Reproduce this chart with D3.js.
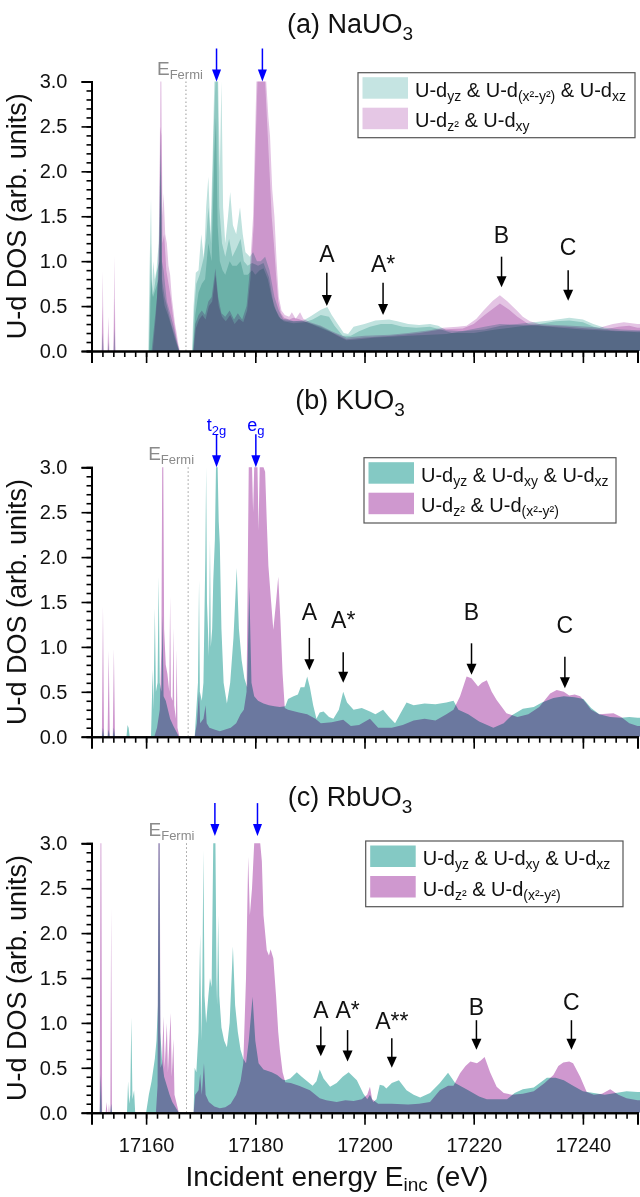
<!DOCTYPE html>
<html>
<head>
<meta charset="utf-8">
<script src="https://cdn.jsdelivr.net/npm/d3@7"></script>
<style>
  body { margin: 0; background: #fff; }
  svg { display: block; }
  text { font-family: "Liberation Sans", Arial, sans-serif; white-space: pre; }
</style>
</head>
<body>
<svg id="chart" width="640" height="1197"></svg>
<script>
// tick labels
const energyTicks = [17160, 17180, 17200, 17220, 17240]
const dosTicks = [0, 0.5, 1.0, 1.5, 2.0, 2.5, 3.0]

// ---------- (a) NaUO3 : one layer per orbital [energy eV, DOS] ----------
const naDyz = [[17151.9,0],[17152.05,0.2],[17152.2,0],[17153.0,0],[17153.1,0.1],[17153.2,0],[17154.05,0],[17154.2,0.25],[17154.35,0],
  [17160.4,0],[17160.6,0.8],[17160.9,1.7],[17161.1,0.7],[17161.3,1.0],[17161.6,0.8],[17161.9,0.9],[17162.3,1.2],[17162.7,2.42],[17162.9,1.0],[17163.2,0.9],[17163.8,0.55],[17164.4,0.42],[17165.0,0.28],[17165.6,0.12],[17166.1,0],
  [17168.4,0],[17168.7,0.5],[17169.1,0.87],[17169.6,0.9],[17170.1,1.3],[17170.6,1.0],[17171.0,1.6],[17171.4,1.94],[17171.8,1.3],[17172.2,2.2],[17172.5,3.0],[17173.2,3.0],[17173.5,2.0],[17173.8,3.0],[17174.1,1.6],[17174.5,1.2],[17175.0,1.5],[17175.4,1.77],[17175.9,1.4],[17176.5,1.3],[17177.2,1.6],[17177.7,1.3],[17178.2,1.1],[17179.0,1.05],[17179.6,1.1],[17180.3,1.0],[17181.0,1.0],[17181.8,1.05],[17182.6,0.9],[17183.5,0.6],[17184.3,0.45],[17185.1,0.36],
  [17186,0.35],[17187,0.33],[17188.8,0.34],[17190,0.38],[17191,0.42],[17192,0.46],[17193.2,0.49],[17194,0.4],[17195,0.31],[17196.2,0.2],[17197,0.19],[17198,0.27],[17200,0.3],[17202,0.34],[17204.5,0.35],[17206,0.33],[17208,0.3],[17210,0.29],[17212,0.3],[17213.5,0.28],[17215,0.23],[17218,0.22],[17222,0.24],[17225,0.28],[17228,0.3],[17231,0.32],[17234,0.34],[17237.5,0.37],[17240,0.35],[17241.9,0.3],[17244,0.26],[17247,0.24],[17250,0.23],[17251,0.23]]
const naDx2y2 = [[17160.5,0],[17160.7,0.6],[17160.9,1.2],[17161.1,0.6],[17161.5,0.7],[17162.0,0.9],[17162.5,1.0],[17162.7,2.2],[17162.9,0.8],[17163.4,0.6],[17164,0.45],[17164.6,0.3],[17165.2,0.18],[17165.8,0.05],[17166.1,0],
  [17168.5,0],[17168.8,0.45],[17169.2,0.75],[17169.8,0.85],[17170.4,1.0],[17171.0,1.25],[17171.4,1.6],[17171.9,1.2],[17172.4,2.5],[17172.7,3.0],[17173.1,3.0],[17173.4,1.6],[17173.9,1.2],[17174.5,1.05],[17175.2,1.25],[17175.8,1.05],[17176.6,1.15],[17177.3,1.25],[17177.9,1.0],[17178.6,0.95],[17179.4,0.98],[17180.5,0.95],[17181.5,0.98],[17182.5,0.82],[17183.4,0.5],[17184.3,0.38],[17185.2,0.33],
  [17187,0.31],[17189,0.32],[17190.5,0.35],[17192,0.4],[17193.5,0.38],[17194.5,0.28],[17196,0.17],[17197.5,0.17],[17199,0.22],[17201,0.27],[17203,0.3],[17205,0.3],[17207,0.27],[17209.5,0.26],[17212,0.27],[17214,0.24],[17216,0.2],[17220,0.2],[17224,0.24],[17228,0.27],[17232,0.3],[17235,0.33],[17237.5,0.34],[17240,0.32],[17242,0.27],[17245,0.23],[17250,0.21],[17251,0.21]]
const naDxz = [[17160.6,0],[17160.8,0.55],[17161.0,0.8],[17161.3,0.6],[17161.8,0.7],[17162.3,0.8],[17162.7,2.0],[17162.9,0.7],[17163.4,0.5],[17164,0.4],[17164.6,0.28],[17165.2,0.15],[17165.8,0.04],[17166,0],
  [17168.6,0],[17169.0,0.4],[17169.6,0.65],[17170.2,0.75],[17170.8,0.8],[17171.4,1.2],[17172.0,1.0],[17172.5,2.2],[17172.8,2.6],[17173.1,1.4],[17173.5,1.0],[17174.0,0.9],[17174.5,0.85],[17175.3,1.0],[17175.8,0.95],[17176.6,0.95],[17177.3,1.0],[17177.9,0.85],[17178.6,0.85],[17179.4,0.9],[17180.0,0.85],[17180.8,0.9],[17181.5,0.92],[17182.3,0.8],[17183.0,0.6],[17183.8,0.45],[17184.6,0.36],[17185.5,0.34],
  [17187,0.33],[17188.8,0.33],[17190.5,0.3],[17192,0.27],[17193.7,0.22],[17195,0.17],[17196.7,0.12],[17199,0.13],[17202,0.15],[17204.7,0.16],[17208,0.17],[17212,0.18],[17215,0.19],[17218.7,0.23],[17222,0.27],[17224.8,0.3],[17228,0.29],[17232,0.28],[17236,0.26],[17240,0.24],[17243,0.23],[17246,0.22],[17250,0.22],[17251,0.22]]
const naDz2 = [[17151.85,0],[17152.05,0.89],[17152.25,0],[17152.9,0],[17153.1,0.38],[17153.3,0],[17154.0,0],[17154.2,1.06],[17154.4,0],
  [17161.0,0],[17161.5,0.3],[17162.0,0.6],[17162.4,1.3],[17162.6,3.0],[17162.8,3.0],[17163.0,1.5],[17163.2,1.76],[17163.5,1.3],[17163.8,1.2],[17164.1,0.95],[17164.4,0.85],[17164.7,0.6],[17165.0,0.45],[17165.3,0.3],[17165.6,0.2],[17165.9,0.08],[17166.2,0],
  [17168.6,0],[17169.0,0.3],[17169.6,0.4],[17170.2,0.45],[17170.8,0.4],[17171.4,0.55],[17172.0,0.6],[17172.7,0.92],[17173.2,0.6],[17173.8,0.42],[17174.5,0.38],[17175.3,0.45],[17176.1,0.35],[17176.8,0.42],[17177.6,0.35],[17178.4,0.5],[17179.0,0.9],[17179.6,1.5],[17180.0,2.5],[17180.2,3.0],[17182.0,3.0],[17182.4,2.6],[17182.7,2.39],[17183.1,1.8],[17183.5,1.5],[17183.9,1.0],[17184.3,0.6],[17184.8,0.45],[17185.4,0.4],
  [17186.2,0.38],[17186.7,0.43],[17187.4,0.36],[17188.2,0.43],[17188.8,0.36],[17190,0.32],[17192,0.28],[17194,0.22],[17196.7,0.15],[17200,0.17],[17204.7,0.18],[17208,0.2],[17212,0.23],[17214.4,0.26],[17217,0.27],[17218.7,0.28],[17220.5,0.36],[17221.8,0.45],[17223.5,0.56],[17224.8,0.62],[17226.2,0.55],[17227.9,0.45],[17229,0.38],[17230.3,0.33],[17232,0.3],[17235,0.29],[17238,0.28],[17241,0.27],[17243,0.26],[17245.5,0.3],[17247.5,0.32],[17250,0.3],[17251,0.3]]
const naDxy = [[17151.9,0],[17152.05,0.5],[17152.2,0],[17153.0,0],[17153.1,0.2],[17153.2,0],[17154.05,0],[17154.2,0.6],[17154.35,0],
  [17161.2,0],[17161.8,0.4],[17162.3,0.9],[17162.6,2.5],[17162.8,2.4],[17163.0,1.2],[17163.3,1.3],[17163.7,0.9],[17164.1,0.75],[17164.5,0.6],[17164.9,0.4],[17165.3,0.25],[17165.7,0.1],[17166.1,0],
  [17168.7,0],[17169.1,0.25],[17169.7,0.35],[17170.3,0.4],[17170.9,0.35],[17171.5,0.5],[17172.1,0.55],[17172.7,0.85],[17173.3,0.5],[17173.9,0.38],[17174.6,0.33],[17175.4,0.4],[17176.2,0.3],[17177,0.36],[17177.8,0.32],[17178.5,0.45],[17179.1,0.8],[17179.7,1.4],[17180.1,2.4],[17180.4,3.0],[17181.8,3.0],[17182.2,2.5],[17182.6,2.0],[17183,1.5],[17183.4,1.2],[17183.8,0.85],[17184.2,0.55],[17184.7,0.42],[17185.3,0.37],
  [17186.2,0.35],[17187,0.37],[17188.2,0.35],[17189.5,0.32],[17191,0.28],[17193,0.23],[17195,0.18],[17196.7,0.13],[17200,0.15],[17205,0.17],[17210,0.2],[17214,0.24],[17218,0.25],[17220,0.3],[17222,0.4],[17224.8,0.53],[17226.5,0.46],[17228,0.38],[17230,0.3],[17233,0.28],[17237,0.27],[17241,0.25],[17244,0.24],[17246.5,0.27],[17248.5,0.28],[17250,0.26],[17251,0.26]]

// ---------- (b) KUO3 ----------
const kuT2g = [[17151.9,0],[17152.1,0.1],[17152.3,0],[17152.95,0],[17153.15,0.08],[17153.35,0],[17153.9,0],[17154.1,0.1],[17154.3,0],
  [17156.4,0],[17156.6,0.13],[17156.8,0.1],[17157.0,0],
  [17160.9,0],[17161.1,0.5],[17161.2,0.75],[17161.35,0.3],[17161.6,1.43],[17161.8,0.5],[17162.1,0.6],[17162.3,1.78],[17162.5,0.6],[17162.8,0.5],[17163.0,1.35],[17163.2,0.45],[17163.6,0.4],[17164.0,0.3],[17164.4,0.2],[17165.0,0.12],[17165.6,0.05],[17166.0,0],
  [17168.9,0],[17169.2,0.3],[17169.5,0.6],[17169.7,1.74],[17169.85,0.5],[17170.2,0.4],[17170.5,0.6],[17170.85,2.0],[17171.0,3.0],[17171.15,1.5],[17171.5,0.9],[17171.7,2.19],[17171.85,1.0],[17172.1,1.2],[17172.3,1.74],[17172.6,2.2],[17172.8,3.0],[17173.1,3.0],[17173.3,2.4],[17173.5,2.15],[17173.8,1.2],[17174.2,0.6],[17174.8,0.37],[17175.4,0.6],[17176.0,1.1],[17176.6,1.88],[17177.0,1.2],[17177.5,0.85],[17178.0,0.65],[17178.5,0.55],[17178.9,1.67],[17179.3,0.6],[17179.8,0.45],[17180.5,0.4],[17181.5,0.37],[17182.5,0.35],[17183.5,0.34],[17184.5,0.33],[17185.5,0.34],
  [17186.0,0.42],[17187.0,0.45],[17187.8,0.47],[17188.3,0.55],[17189.0,0.55],[17189.5,0.67],[17190.0,0.55],[17190.6,0.35],[17191.2,0.2],[17191.8,0.27],[17192.5,0.28],[17193.5,0.22],[17194.3,0.2],[17195.3,0.3],[17196.1,0.5],[17196.8,0.38],[17198.0,0.3],[17199.5,0.32],[17201.0,0.28],[17202.0,0.25],[17203.4,0.3],[17204.5,0.22],[17205.6,0.15],[17206.5,0.25],[17207.7,0.38],[17209.0,0.35],[17211.0,0.37],[17213.0,0.36],[17215.0,0.38],[17216.3,0.4],[17217.2,0.3],[17219,0.25],[17221,0.17],[17223.6,0.1],[17225.5,0.15],[17227,0.24],[17229,0.31],[17231,0.33],[17232.5,0.38],[17234.6,0.43],[17236.5,0.45],[17238.5,0.44],[17240.1,0.42],[17241.5,0.32],[17243,0.25],[17245,0.22],[17247,0.21],[17248.5,0.22],[17250,0.21],[17251,0.21]]
const kuEg = [[17151.9,0],[17152.1,1.45],[17152.3,0],[17152.95,0],[17153.15,0.96],[17153.35,0],[17153.9,0],[17154.1,0.98],[17154.3,0],
  [17161.5,0],[17162.0,0.1],[17162.5,0.3],[17162.8,1.0],[17162.95,3.0],[17163.15,3.0],[17163.3,1.2],[17163.6,0.8],[17163.9,0.7],[17164.25,0.5],[17164.4,1.56],[17164.55,0.45],[17164.85,0.4],[17165.0,1.21],[17165.15,0.35],[17165.45,0.2],[17165.6,0.97],[17165.75,0.1],[17166.1,0],
  [17168.9,0],[17169.3,0.15],[17169.7,0.5],[17169.9,0.15],[17170.5,0.2],[17170.9,0.35],[17171.1,0.15],[17171.6,0.1],[17172.5,0.08],[17173.5,0.06],[17174.5,0.08],[17175.5,0.1],[17176.5,0.15],[17177.3,0.25],[17177.9,0.3],[17178.4,0.5],[17178.8,3.0],[17179.4,3.0],[17179.6,2.5],[17179.8,3.0],[17180.4,3.0],[17180.6,2.3],[17180.8,3.0],[17181.5,3.0],[17181.8,2.95],[17182.1,2.4],[17182.4,1.9],[17182.9,1.5],[17183.3,1.19],[17183.8,1.5],[17184.2,1.78],[17184.6,1.3],[17185.0,0.7],[17185.4,0.32],
  [17186,0.3],[17188,0.27],[17189.5,0.25],[17191,0.2],[17192,0.15],[17194,0.16],[17196.1,0.19],[17197.5,0.12],[17199,0.13],[17201,0.2],[17202.5,0.1],[17205,0.1],[17207,0.13],[17209,0.18],[17211,0.2],[17213,0.18],[17215,0.25],[17216.3,0.3],[17217.5,0.45],[17218.7,0.67],[17219.6,0.65],[17220.8,0.56],[17221.5,0.6],[17222.4,0.63],[17223.3,0.5],[17224.2,0.41],[17226,0.26],[17228,0.22],[17230,0.25],[17232,0.33],[17234,0.48],[17235.2,0.52],[17236.5,0.5],[17237.5,0.46],[17238.5,0.47],[17239.5,0.45],[17240.5,0.38],[17241.5,0.3],[17243,0.25],[17245.6,0.26],[17247,0.22],[17248.5,0.15],[17250,0.12],[17251,0.12]]

// ---------- (c) RbUO3 ----------
const rbT2g = [[17151.5,0],[17151.7,0.43],[17151.9,0],[17153.45,0],[17153.6,0.1],[17153.75,0],
  [17156.5,0],[17156.7,0.35],[17156.9,0.1],[17157.1,0.2],[17157.3,1.06],[17157.5,0.15],[17157.8,0.25],[17158.0,0],
  [17160.0,0],[17160.5,0.2],[17161.0,0.35],[17161.6,0.6],[17161.9,0.8],[17162.15,1.2],[17162.3,3.0],[17162.45,3.0],[17162.6,0.9],[17162.9,0.6],[17163.3,0.4],[17163.8,0.3],[17164.3,0.2],[17164.8,0.12],[17165.5,0.05],[17166.0,0],
  [17168.7,0],[17168.9,0.5],[17169.2,0.45],[17169.6,0.9],[17169.9,1.99],[17170.1,0.8],[17170.3,1.5],[17170.5,2.92],[17170.7,1.3],[17171.0,1.0],[17171.4,1.3],[17171.7,1.5],[17172.0,1.4],[17172.3,3.0],[17172.7,3.0],[17172.9,1.5],[17173.0,1.2],[17173.2,2.2],[17173.4,1.3],[17173.8,0.95],[17174.3,0.8],[17174.8,0.73],[17175.3,1.0],[17175.9,1.85],[17176.3,1.2],[17176.8,0.9],[17177.3,0.7],[17177.8,0.6],[17178.3,0.55],[17178.8,0.8],[17179.5,1.29],[17180.0,0.8],[17180.6,0.55],[17181.5,0.48],[17183,0.45],[17184,0.42],[17185,0.37],[17185.5,0.36],
  [17186.4,0.38],[17187.6,0.45],[17188.5,0.4],[17189.5,0.35],[17190.5,0.3],[17191.2,0.35],[17191.8,0.48],[17192.5,0.38],[17193.7,0.29],[17194.9,0.33],[17196,0.4],[17197.1,0.45],[17198.6,0.36],[17199.8,0.21],[17200.5,0.15],[17201,0.2],[17201.6,0.12],[17202.2,0.15],[17202.8,0.31],[17203.5,0.3],[17204,0.27],[17205,0.33],[17206.3,0.36],[17207.7,0.25],[17209,0.2],[17210.2,0.17],[17212,0.22],[17213.8,0.33],[17215.3,0.445],[17216.6,0.33],[17217.5,0.3],[17219,0.25],[17221,0.18],[17222.4,0.15],[17224,0.15],[17226.1,0.15],[17227.5,0.22],[17229,0.26],[17231,0.28],[17233.4,0.39],[17235,0.39],[17236.5,0.36],[17238.2,0.3],[17240,0.24],[17242,0.22],[17244,0.2],[17246,0.22],[17248,0.24],[17250,0.23],[17251,0.23]]
const rbEg = [[17151.5,0],[17151.65,3.0],[17151.8,3.0],[17151.95,0],[17152.6,0],[17152.75,0.12],[17152.9,0],[17153.1,0],[17153.2,0.1],[17153.3,0],[17153.45,0],[17153.6,2.28],[17153.75,0],
  [17161.8,0],[17162.1,0.3],[17162.25,3.0],[17162.5,3.0],[17162.65,0.5],[17162.9,0.55],[17163.2,1.07],[17163.4,0.5],[17163.8,1.0],[17164.0,0.45],[17164.5,1.11],[17164.7,0.4],[17165.0,0.82],[17165.2,0.2],[17165.6,0.1],[17166,0],
  [17168.7,0],[17169.0,0.2],[17169.6,0.25],[17169.9,0.43],[17170.2,0.2],[17170.6,0.55],[17170.9,0.2],[17171.5,0.12],[17172.5,0.07],[17173.5,0.05],[17174.5,0.06],[17175.5,0.1],[17176.5,0.2],[17177.3,0.35],[17177.8,0.55],[17178.3,1.5],[17178.7,2.85],[17179.0,2.2],[17179.4,2.5],[17179.8,3.0],[17180.9,3.0],[17181.2,2.8],[17181.5,2.2],[17182.1,1.81],[17182.5,1.75],[17182.8,1.82],[17183.3,1.72],[17183.8,1.3],[17184.2,0.9],[17184.5,0.7],[17185.0,0.45],[17185.5,0.34],
  [17186.5,0.33],[17188,0.3],[17190,0.25],[17191.8,0.16],[17193,0.14],[17194.9,0.12],[17196.5,0.14],[17198,0.13],[17199.5,0.15],[17200.5,0.2],[17201,0.29],[17201.4,0.15],[17202.5,0.1],[17205,0.1],[17208,0.09],[17210,0.1],[17212,0.12],[17213.8,0.25],[17215.3,0.3],[17216.3,0.3],[17217.5,0.44],[17218.5,0.52],[17219.4,0.57],[17220.6,0.55],[17221.3,0.58],[17222,0.62],[17223,0.45],[17224.2,0.29],[17225.5,0.22],[17227,0.2],[17229,0.21],[17231,0.24],[17233,0.33],[17234.6,0.42],[17235.5,0.52],[17236.4,0.56],[17237.5,0.57],[17238.2,0.55],[17239.5,0.4],[17240.7,0.23],[17242,0.2],[17243.5,0.21],[17245,0.26],[17246.5,0.2],[17248,0.16],[17250,0.14],[17251,0.14]]

// Fermi energies and t2g / eg markers (eV)
const fermiEnergies = [17167.3, 17167.7, 17167.4]
const naSplit = [17172.9, 17181.3]
const kuSplit = [17172.9, 17180.1]
const rbSplit = [17172.6, 17180.4]
const kuSplitLabels = [["t", ["2g"]], ["e", ["g"]]]

// peak markers: [label, energy, arrow tip, arrow top, label baseline] (DOS units)
const naPeaks = [["A", 17193.1, 0.5, 0.87, 0.99], ["A*", 17203.4, 0.4, 0.76, 0.88], ["B", 17225.1, 0.71, 1.05, 1.2], ["C", 17237.3, 0.56, 0.9, 1.07]]
const kuPeaks = [["A", 17189.9, 0.74, 1.1, 1.3], ["A*", 17196.1, 0.6, 0.94, 1.21], ["B", 17219.6, 0.69, 1.04, 1.3], ["C", 17236.7, 0.54, 0.89, 1.16]]
const rbPeaks = [["A", 17192.0, 0.63, 0.96, 1.05], ["A*", 17196.9, 0.57, 0.92, 1.05], ["A**", 17205.0, 0.5, 0.83, 0.93], ["B", 17220.5, 0.7, 1.03, 1.09], ["C", 17237.9, 0.7, 1.03, 1.14]]

// legend labels (plain text and [subscript])
const naLegend = [["U-d", ["yz"], " & U-d", ["(x²-y²)"], " & U-d", ["xz"]], ["U-d", ["z²"], " & U-d", ["xy"]]]
const kuLegend = [["U-d", ["yz"], " & U-d", ["xy"], " & U-d", ["xz"]], ["U-d", ["z²"], " & U-d", ["(x²-y²)"]]]

const tealLayer = "#bfe2de"
const pinkLayer = "#e4c4e4"
const teal = "#84c9c4"
const pink = "#cf98cf"

const panels = [
  { title: ["(a) NaUO", ["3"]], titleY: 33, top: 81.5, bottom: 351,
    layers: [[naDyz, tealLayer], [naDx2y2, tealLayer], [naDxz, tealLayer], [naDz2, pinkLayer], [naDxy, pinkLayer]],
    fermi: fermiEnergies[0], fermiDx: -29, split: naSplit, splitTip: 3.0, peaks: naPeaks,
    legend: { x: 358, y: 72.7, w: 277, h: 65, rows: naLegend, colors: ["#c5e4e2", "#e5c7e5"] } },
  { title: ["(b) KUO", ["3"]], titleY: 409, top: 467.3, bottom: 736.7,
    layers: [[kuT2g, teal], [kuEg, pink]],
    fermi: fermiEnergies[1], fermiDx: -40, split: kuSplit, splitTip: 3.0, splitLabels: kuSplitLabels, peaks: kuPeaks,
    legend: { x: 364, y: 457.7, w: 252, h: 65.3, rows: kuLegend, colors: [teal, pink] } },
  { title: ["(c) RbUO", ["3"]], titleY: 806, top: 843.3, bottom: 1112.7,
    layers: [[rbT2g, teal], [rbEg, pink]],
    fermi: fermiEnergies[2], fermiDx: -38, split: rbSplit, splitTip: 3.08, peaks: rbPeaks, xLabels: true,
    legend: { x: 365.7, y: 841, w: 257.3, h: 65.7, rows: kuLegend, colors: [teal, pink] } }
]

const svg = d3.select('#chart')
svg.append('rect').attr('width', 640).attr('height', 1197).attr('fill', '#fff')

const x = d3.scaleLinear().domain([17150, 17250]).range([91.5, 637.5])

// text with subscripts: strings are normal, [string] is subscript
function richText(text, parts, size, subSize, shift) {
  let offset = 0
  parts.forEach(part => {
    const isSub = Array.isArray(part)
    const target = isSub ? shift : 0
    text.append('tspan')
      .attr('dy', target - offset)
      .attr('font-size', isSub ? subSize : size)
      .text(isSub ? part[0] : part)
    offset = target
  })
}

function arrow(g, cx, yTop, yTip, color, headW, headH, lw) {
  g.append('line')
    .attr('x1', cx).attr('x2', cx)
    .attr('y1', yTop).attr('y2', yTip - headH + 1)
    .attr('stroke', color).attr('stroke-width', lw)
  g.append('path')
    .attr('d', `M${cx - headW / 2},${yTip - headH}L${cx + headW / 2},${yTip - headH}L${cx},${yTip}Z`)
    .attr('fill', color)
}

panels.forEach((p, i) => {
  const y = d3.scaleLinear().domain([0, 3]).range([p.bottom, p.top])
  const g = svg.append('g')

  // clip to plot area
  const clipId = `clip${i}`
  svg.append('clipPath').attr('id', clipId)
    .append('rect')
    .attr('x', x.range()[0]).attr('y', p.top - 1)
    .attr('width', 640 - x.range()[0]).attr('height', p.bottom - p.top + 1)

  const area = d3.area()
    .x(d => x(d[0]))
    .y0(y(0))
    .y1(d => y(d[1]))

  // DOS areas, multiply blend so overlaps darken
  const areas = g.append('g').attr('clip-path', `url(#${clipId})`)
  p.layers.forEach(([data, color]) => {
    areas.append('path')
      .datum(data)
      .attr('d', area)
      .attr('fill', color)
      .style('mix-blend-mode', 'multiply')
  })

  // Fermi level
  g.append('line')
    .attr('x1', x(p.fermi)).attr('x2', x(p.fermi))
    .attr('y1', y(3)).attr('y2', y(0))
    .attr('stroke', '#9a9a9a').attr('stroke-width', 1)
    .attr('stroke-dasharray', '1.5,2.5')
  const ef = g.append('text')
    .attr('x', x(p.fermi) + p.fermiDx)
    .attr('y', p.top - 7)
    .attr('fill', '#8a8a8a')
  richText(ef, ["E", ["Fermi"]], 19, 13, 4)

  // x axis: minor then major ticks
  const xMinor = g.append('g')
    .attr('transform', `translate(0,${p.bottom})`)
    .call(d3.axisBottom(x).ticks(50).tickSize(6).tickFormat(''))
  const xMajor = g.append('g')
    .attr('transform', `translate(0,${p.bottom})`)
    .call(d3.axisBottom(x).tickValues(energyTicks).tickSize(12).tickPadding(13)
      .tickFormat(p.xLabels ? d3.format('d') : ''))

  // y axis: minor then major ticks
  const yMinor = g.append('g')
    .attr('transform', `translate(${x.range()[0]},0)`)
    .call(d3.axisLeft(y).ticks(30).tickSize(5).tickFormat(''))
  const yMajor = g.append('g')
    .attr('transform', `translate(${x.range()[0]},0)`)
    .call(d3.axisLeft(y).tickValues(dosTicks).tickSize(10).tickPadding(14).tickFormat(d3.format('.1f')))

  ;[xMinor, xMajor, yMinor, yMajor].forEach(ax => {
    ax.attr('font-family', null).attr('font-size', 20)
    ax.select('.domain').attr('stroke-width', 2).attr('stroke', '#000')
    ax.selectAll('.tick line').attr('stroke-width', 1.6).attr('stroke', '#000')
    ax.selectAll('.tick text').attr('fill', '#111')
  })

  // y title
  g.append('text')
    .attr('transform', `translate(26,${(p.top + p.bottom) / 2}) rotate(-90)`)
    .attr('text-anchor', 'middle')
    .attr('font-size', 27)
    .attr('fill', '#111')
    .text('U-d DOS (arb. units)')

  // panel title
  const title = g.append('text')
    .attr('x', 350).attr('y', p.titleY)
    .attr('text-anchor', 'middle')
    .attr('fill', '#111')
  richText(title, p.title, 27, 19, 7)

  // legend
  const L = p.legend
  const leg = g.append('g')
  leg.append('rect')
    .attr('x', L.x).attr('y', L.y).attr('width', L.w).attr('height', L.h)
    .attr('fill', '#fff').attr('stroke', '#555').attr('stroke-width', 1.2)
  L.rows.forEach((row, r) => {
    const ry = L.y + 4.5 + r * 30.5
    leg.append('rect')
      .attr('x', L.x + 4.5).attr('y', ry)
      .attr('width', 45.5).attr('height', 21.5)
      .attr('fill', L.colors[r])
    const t = leg.append('text')
      .attr('x', L.x + 57).attr('y', ry + 19.5)
      .attr('fill', '#111')
    richText(t, row, 20, 14, 4)
  })

  // t2g / eg markers
  p.split.forEach((e, k) => {
    const tip = y(p.splitTip)
    arrow(g, x(e), tip - 33, tip, '#0000ff', 9, 12, 1.5)
    if (p.splitLabels) {
      const lab = g.append('text')
        .attr('x', x(e)).attr('y', tip - 36)
        .attr('text-anchor', 'middle')
        .attr('fill', '#0000ff')
      richText(lab, p.splitLabels[k], 18, 13, 4)
    }
  })

  // peak markers
  p.peaks.forEach(([label, e, tip, top, base]) => {
    arrow(g, x(e), y(top), y(tip), '#000', 10, 11, 1.5)
    g.append('text')
      .attr('x', x(e)).attr('y', y(base))
      .attr('text-anchor', 'middle')
      .attr('font-size', 23)
      .attr('fill', '#111')
      .text(label)
  })
})

// x title
const xTitle = svg.append('text')
  .attr('x', 337).attr('y', 1186)
  .attr('text-anchor', 'middle')
  .attr('fill', '#111')
richText(xTitle, ["Incident energy E", ["inc"], " (eV)"], 28, 19, 5)
</script>
</body>
</html>
